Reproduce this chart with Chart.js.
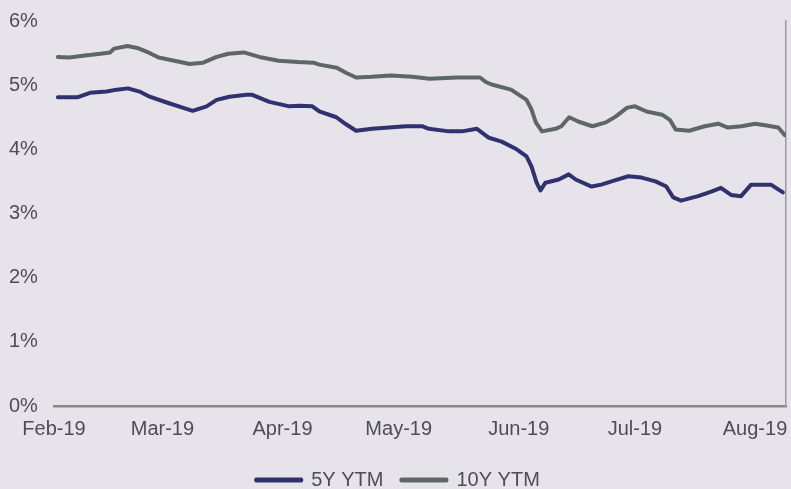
<!DOCTYPE html>
<html>
<head>
<meta charset="utf-8">
<script src="https://cdn.jsdelivr.net/npm/chart.js@4/dist/chart.umd.min.js"></script>
<style>
  html, body { margin: 0; padding: 0; background: #e6e4ea; }
  canvas { display: block; }
</style>
</head>
<body>
<canvas id="c" width="791" height="489"></canvas>
<script>
// Calendar days since 1 Feb 2019
const monthDays   = [0, 28, 59, 89, 120, 150, 181];
const monthLabels = ['Feb-19', 'Mar-19', 'Apr-19', 'May-19', 'Jun-19', 'Jul-19', 'Aug-19'];
const yTicks      = [0, 1, 2, 3, 4, 5, 6];

const days5y = [1,6,9.3,13.6,16.2,19.1,22.1,24.7,29.1,33.2,35.8,39.4,42,45.3,49.7,51.2,55.6,60.8,63.3,66.7,
  68.5,72.9,75.4,78,82.1,86.5,90.9,95,96.8,102,105.3,109.2,112.3,115.6,119.2,122,123.3,124.6,125.6,126.9,
  130.3,132.9,134.7,138.8,141.3,145,148.3,151.7,155.3,158.1,159.9,161.9,166.3,169.7,172.2,174.8,177.4,180,185.1,188.2];
const ytm5y = [4.81,4.81,4.88,4.90,4.93,4.95,4.90,4.82,4.73,4.65,4.60,4.67,4.77,4.82,4.85,4.85,4.74,4.67,4.68,4.67,
  4.59,4.50,4.39,4.29,4.32,4.34,4.36,4.36,4.32,4.28,4.28,4.32,4.18,4.12,4.01,3.89,3.73,3.48,3.36,3.48,
  3.53,3.61,3.53,3.42,3.45,3.52,3.58,3.56,3.50,3.42,3.25,3.20,3.27,3.34,3.40,3.29,3.27,3.45,3.45,3.33];

const days10y = [1,4,7.5,12,14.5,15.5,19,21.5,24,27,32,35,38.5,42,45,49,53,58,63,67,
  68.5,73,75.5,78,82,87,92.5,97,104,110,111.5,113,118,122,123.3,124.4,126,129.5,131,133,
  135.5,139,142.5,145,148,150,153,157,159,160.5,164,168,171.5,174,177.5,181,184,187,188.7];
const ytm10y = [5.44,5.43,5.46,5.49,5.51,5.57,5.61,5.58,5.52,5.43,5.37,5.33,5.35,5.44,5.49,5.51,5.44,5.38,5.36,5.35,
  5.32,5.27,5.19,5.12,5.13,5.15,5.13,5.10,5.12,5.12,5.05,5.01,4.93,4.77,4.62,4.42,4.28,4.32,4.36,4.50,
  4.43,4.36,4.42,4.51,4.65,4.67,4.59,4.54,4.46,4.31,4.29,4.36,4.40,4.34,4.36,4.40,4.37,4.34,4.22];

const seriesNames = ['5Y YTM', '10Y YTM'];
const col5 = '#30316f';
const col10 = '#5d6864';
const textCol = '#4e4d55';
const FONT = '"Liberation Sans", Arial, sans-serif';

const toPts = (xs, ys) => xs.map((x, i) => ({ x: x, y: ys[i] }));

new Chart(document.getElementById('c'), {
  type: 'line',
  data: {
    datasets: [
      { label: seriesNames[0], data: toPts(days5y, ytm5y), borderColor: col5, backgroundColor: col5,
        borderWidth: 4, pointRadius: 0, tension: 0, borderJoinStyle: 'round', borderCapStyle: 'round' },
      { label: seriesNames[1], data: toPts(days10y, ytm10y), borderColor: col10, backgroundColor: col10,
        borderWidth: 4, pointRadius: 0, tension: 0, borderJoinStyle: 'round', borderCapStyle: 'round' }
    ]
  },
  options: {
    responsive: false,
    animation: false,
    layout: { padding: { left: 9, right: 4, top: 21, bottom: -11 } },
    plugins: {
      tooltip: { enabled: false },
      legend: {
        position: 'bottom',
        labels: {
          color: textCol,
          font: { family: FONT, size: 20 },
          boxWidth: 45,
          boxHeight: 1,
          padding: 18
        }
      }
    },
    scales: {
      x: {
        type: 'linear',
        min: 0,
        max: 189,
        grid: { display: false, drawTicks: false },
        border: { display: true, color: '#8c8886', width: 2.5 },
        afterBuildTicks: (s) => { s.ticks = monthDays.map(v => ({ value: v })); },
        afterFit: (s) => { s.paddingLeft = 0; s.paddingRight = 0; },
        ticks: {
          autoSkip: false,
          maxRotation: 0,
          padding: 11,
          color: textCol,
          font: { family: FONT, size: 20 },
          callback: (v) => { const i = monthDays.indexOf(v); return i >= 0 ? monthLabels[i] : ''; }
        }
      },
      y: {
        min: 0,
        max: 6,
        grid: { display: false, drawTicks: false },
        border: { display: false },
        afterBuildTicks: (s) => { s.ticks = yTicks.map(v => ({ value: v })); },
        afterFit: (s) => { s.width = 45; },
        ticks: {
          crossAlign: 'far',
          color: textCol,
          font: { family: FONT, size: 20 },
          callback: (v) => v + '%'
        }
      },
      y2: {
        position: 'right',
        min: 0,
        max: 6,
        grid: { display: false, drawTicks: false },
        ticks: { display: false },
        border: { display: true, color: '#9d999d', width: 1.5 },
        afterFit: (s) => { s.width = 1; }
      }
    }
  }
});
</script>
</body>
</html>
